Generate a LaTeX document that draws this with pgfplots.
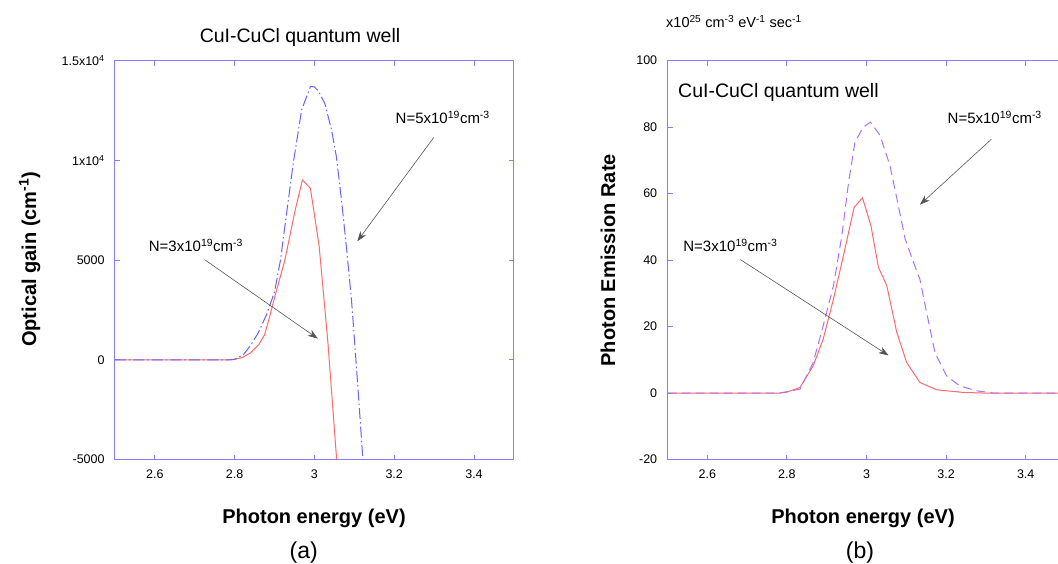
\documentclass[border=0pt]{standalone}
\usepackage{fontspec}
\setmainfont{Liberation Sans}
\usepackage{pgfplots}
\pgfplotsset{compat=1.18}
\usetikzlibrary{arrows.meta}
\definecolor{axcol}{RGB}{128,128,255}
\definecolor{redc}{RGB}{255,105,105}
\definecolor{bluec}{RGB}{100,100,255}
\definecolor{purc}{RGB}{165,115,255}
\definecolor{arr}{RGB}{85,85,85}

\pgfplotsset{myax/.style={
  scale only axis, anchor=south west,
  width=399pt, height=399pt,
  axis line style={axcol, line width=0.9pt},
  every tick/.style={axcol, line width=0.9pt},
  major tick length=5pt,
  tick align=inside,
  xmin=2.5, xmax=3.5,
  xtick={2.6,2.8,3,3.2,3.4},
  xticklabels={2.6,2.8,3,3.2,3.4},
  scaled ticks=false,
  tick label style={font=\fontsize{12.5}{14}\selectfont},
  xticklabel style={yshift=-6.5pt},
  yticklabel style={xshift=-6.8pt},
}}

\begin{document}
\begin{tikzpicture}
\path[use as bounding box] (0,0) rectangle (1058pt,563pt);

% ---------------- (a) ----------------
\begin{axis}[myax, at={(114.9pt,103.4pt)},
  ymin=-5000, ymax=15000,
  ytick={-5000,0,5000,10000,15000},
  yticklabels={-5000,0,5000,1x10\textsuperscript{4},1.5x10\textsuperscript{4}}]
\addplot[redc, line width=1pt] coordinates {
 (2.50,0) (2.60,0) (2.70,0) (2.78,0) (2.80,20) (2.82,120) (2.84,350) (2.86,750)
 (2.875,1250) (2.888,2170) (2.901,3180) (2.926,5000) (2.951,7430) (2.970,9020)
 (2.990,8600) (3.012,5680) (3.034,840) (3.058,-5600) (3.07,-8600)};
\addplot[bluec, line width=1pt, dash pattern=on 11pt off 3pt on 1.5pt off 3pt] coordinates {
 (2.50,0) (2.60,0) (2.70,0) (2.79,0) (2.80,30) (2.822,255) (2.838,670) (2.859,1340)
 (2.880,2260) (2.900,3400) (2.915,5000) (2.930,7300) (2.947,9860) (2.968,12530)
 (2.990,13700) (3.000,13680) (3.009,13500) (3.026,12860) (3.043,11530) (3.055,10200)
 (3.068,8000) (3.080,5700) (3.093,3000) (3.101,840) (3.110,-1660) (3.121,-4840) (3.13,-7500)};
\end{axis}

% ---------------- (b) ----------------
\begin{axis}[myax, at={(667.5pt,103.4pt)}, width=398pt,
  ymin=-20, ymax=100,
  ytick={-20,0,20,40,60,80,100},
  yticklabels={-20,0,20,40,60,80,100}]
\addplot[redc, line width=1pt] coordinates {
 (2.50,0) (2.60,0) (2.70,0) (2.78,0) (2.80,0.3) (2.833,1.7) (2.866,8.2) (2.891,16.2)
 (2.917,28.3) (2.942,41.3) (2.969,55.9) (2.990,58.7) (3.011,50.4) (3.030,37.8)
 (3.051,32.3) (3.076,18.3) (3.101,9.2) (3.134,3.2) (3.176,1.0) (3.243,0.2) (3.30,0) (3.40,0) (3.50,0)};
\addplot[purc, line width=1pt, dash pattern=on 9pt off 5pt] coordinates {
 (2.50,0) (2.60,0) (2.70,0) (2.78,0) (2.80,0.4) (2.833,1.2) (2.866,9.2) (2.891,20.2)
 (2.917,32.3) (2.938,47.3) (2.955,63.4) (2.971,75.5) (2.992,80.0) (3.010,81.5)
 (3.034,77.5) (3.059,68.4) (3.080,56.4) (3.097,46.4) (3.118,39.3) (3.134,34.3)
 (3.151,24.3) (3.172,12.2) (3.201,5.2) (3.234,2.2) (3.276,0.7) (3.32,0) (3.40,0) (3.50,0)};
\end{axis}

% ---------------- texts (a) ----------------
\node[anchor=base, font=\fontsize{19.5}{22}\selectfont] at (300pt,520.6pt) {CuI-CuCl quantum well};
\node[anchor=base, font=\fontsize{20}{24}\selectfont\bfseries] at (314pt,39.5pt) {Photon energy (eV)};
\node[anchor=base, font=\fontsize{23}{26}\selectfont] at (303.7pt,4.7pt) {(a)};
\node[rotate=90, font=\fontsize{20}{24}\selectfont\bfseries] at (29.7pt,303.6pt) {Optical gain (cm\textsuperscript{-1})};
\node[anchor=base west, inner sep=0pt, font=\fontsize{15}{18}\selectfont] at (395.5pt,439pt) {N=5x10\textsuperscript{19}cm\textsuperscript{-3}};
\node[anchor=base west, inner sep=0pt, font=\fontsize{15}{18}\selectfont] at (148.7pt,311.7pt) {N=3x10\textsuperscript{19}cm\textsuperscript{-3}};
\draw[arr, line width=0.6pt, -{Stealth[length=10pt, width=7pt, inset=3pt]}] (433.7pt,425.5pt) -- (357.3pt,321.7pt);
\draw[arr, line width=0.6pt, -{Stealth[length=10pt, width=7pt, inset=3pt]}] (204.5pt,303.4pt) -- (317.8pt,224.4pt);

% ---------------- texts (b) ----------------
\node[anchor=base west, inner sep=0pt, font=\fontsize{14.5}{17}\selectfont] at (666pt,535.7pt) {x10\textsuperscript{25} cm\textsuperscript{-3} eV\textsuperscript{-1} sec\textsuperscript{-1}};
\node[anchor=base west, inner sep=0pt, font=\fontsize{19.5}{22}\selectfont] at (678pt,465.3pt) {CuI-CuCl quantum well};
\node[anchor=base, font=\fontsize{20}{24}\selectfont\bfseries] at (863pt,39.5pt) {Photon energy (eV)};
\node[anchor=base, font=\fontsize{23}{26}\selectfont] at (860pt,4.7pt) {(b)};
\node[rotate=90, font=\fontsize{20}{24}\selectfont\bfseries] at (608pt,302.7pt) {Photon Emission Rate};
\node[anchor=base west, inner sep=0pt, font=\fontsize{15}{18}\selectfont] at (947.5pt,439pt) {N=5x10\textsuperscript{19}cm\textsuperscript{-3}};
\node[anchor=base west, inner sep=0pt, font=\fontsize{15}{18}\selectfont] at (683.2pt,311.7pt) {N=3x10\textsuperscript{19}cm\textsuperscript{-3}};
\draw[arr, line width=0.6pt, -{Stealth[length=10pt, width=7pt, inset=3pt]}] (991.3pt,423.7pt) -- (919.9pt,358.3pt);
\draw[arr, line width=0.6pt, -{Stealth[length=10pt, width=7pt, inset=3pt]}] (740.4pt,303.4pt) -- (888.6pt,207.5pt);
\end{tikzpicture}
\end{document}
